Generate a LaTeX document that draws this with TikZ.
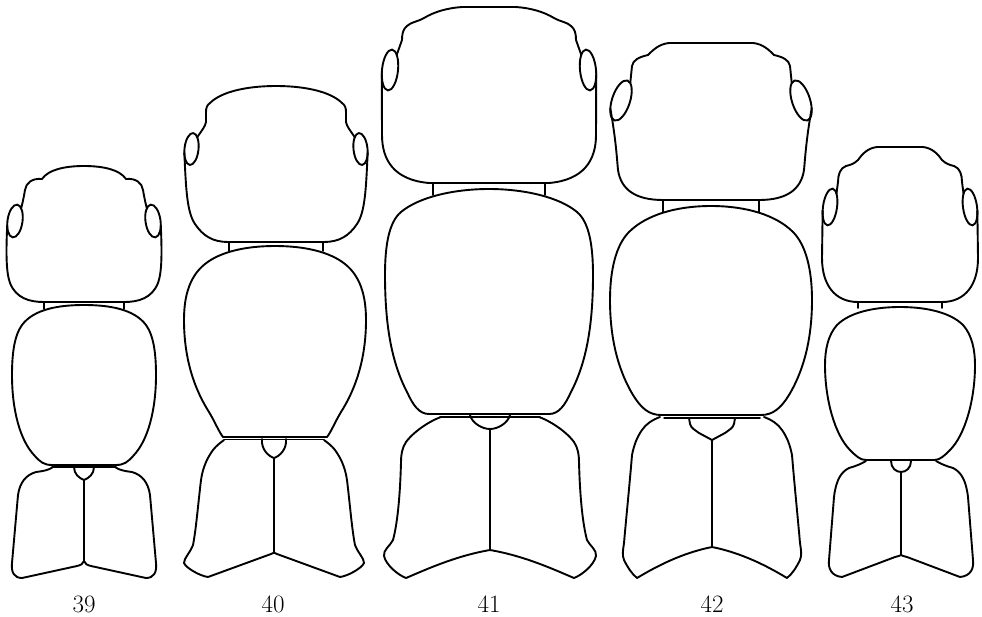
\documentclass[tikz,border=0pt]{standalone}
\usetikzlibrary{shapes.geometric}
\begin{document}
\tikzset{
  ol/.style={line width=1.9pt, line join=round, line cap=round},
  sutureline/.style={line width=1.8pt, line cap=round},
  baseline2/.style={line width=1.5pt, line cap=round},
  eyeshape/.style={draw, ellipse, inner sep=0pt, outer sep=0pt, line width=1.9pt, transform shape},
  lab/.style={font=\fontsize{25}{25}\selectfont, inner sep=0pt},
}
\begin{tikzpicture}[x=1pt,y=-1pt]
\useasboundingbox (0,0) rectangle (982,616);

% ---------------- 39 ----------------
\foreach \s in {1,-1}{
\begin{scope}[shift={(84,0)},xscale=\s]
  \node[eyeshape, minimum width=15pt, minimum height=33pt, rotate=-8] (e39\s) at (-69,221) {};
  \draw[ol] (0,166) .. controls (-20,166) and (-36,170) .. (-42,179)
     .. controls (-52,178) and (-58,183) .. (-59,190)
     .. controls (-60,196) and (-61,201) .. (e39\s.72);
  \draw[ol] (e39\s.215) .. controls (-78,252) and (-78,272) .. (-74,283)
     .. controls (-68,298) and (-55,302) .. (-40,302) -- (0,302);
  \draw[ol] (-40,302) -- (-40,309);
  \draw[ol] (0,305) .. controls (-25,305) and (-50,309) .. (-62,325)
     .. controls (-70,336) and (-72,355) .. (-72,375)
     .. controls (-72,410) and (-64,440) .. (-50,455)
     .. controls (-44,462) and (-40,465) .. (-32,465) -- (0,465);
  \draw[baseline2] (-32,467) -- (0,467);
  \draw[ol] (-31,467) .. controls (-35,470) and (-40,471) .. (-48,472)
     .. controls (-58,475) and (-64,482) .. (-66,495) -- (-72,563)
     .. controls (-73,572) and (-70,578) .. (-62,578) -- (-7,566)
     .. controls (-3,565) and (-1,564) .. (0,561);
  \draw[ol] (-10,467) .. controls (-10,474) and (-5,478) .. (0,480);
\end{scope}}
\draw[sutureline] (84,480) -- (84,561);

% ---------------- 40 ----------------
\foreach \s in {1,-1}{
\begin{scope}[shift={(276,0)},xscale=\s]
  \node[eyeshape, minimum width=14pt, minimum height=32pt, rotate=-6] (e40\s) at (-84.5,149) {};
  \draw[ol] (0,86) .. controls (-30,86) and (-55,92) .. (-66,103)
     .. controls (-69,105) and (-70,108) .. (-70,112) -- (-70,122)
     .. controls (-71,127) and (-74,130) .. (e40\s.70);
  \draw[ol] (e40\s.215) .. controls (-90,190) and (-89,212) .. (-81,224)
     .. controls (-73,236) and (-63,242) .. (-48,242) -- (0,242);
  \draw[ol] (-47,242) -- (-47,251);
\end{scope}
\begin{scope}[shift={(275,0)},xscale=\s]
  \draw[ol] (0,246) .. controls (-30,246) and (-55,252) .. (-70,264)
     .. controls (-85,276) and (-91,295) .. (-91,320)
     .. controls (-91,360) and (-80,390) .. (-66,412)
     .. controls (-60,422) and (-56,432) .. (-52,437) -- (0,437);
\end{scope}
\begin{scope}[shift={(274,0)},xscale=\s]
  \draw[baseline2] (-50,439.5) -- (0,439.5);
  \draw[ol] (-50,440) .. controls (-54,443) and (-58,446) .. (-61,450)
     .. controls (-66,457) and (-71,466) .. (-73,480)
     .. controls (-76,505) and (-78,530) .. (-81,545)
     .. controls (-84,553) and (-90,558) .. (-90,563)
     .. controls (-88,568) and (-74,576) .. (-66,577) -- (-3,554)
     .. controls (-1,553) and (0,553) .. (0,552);
  \draw[ol] (-12,439) .. controls (-13,449) and (-6,456) .. (0,458);
\end{scope}}
\draw[sutureline] (274,458) -- (274,552);

% ---------------- 41 ----------------
\foreach \s in {1,-1}{
\begin{scope}[shift={(489,0)},xscale=\s]
  \node[eyeshape, minimum width=16pt, minimum height=41pt, rotate=-6] (e41\s) at (-99,70) {};
  \draw[ol] (0,7) -- (-27,7) .. controls (-42,8) and (-55,12) .. (-65,18)
     .. controls (-72,22) and (-78,22) .. (-82,26)
     .. controls (-86,29) and (-87,34) .. (-87,40) -- (e41\s.72);
  \draw[ol] (e41\s.210) -- (-107,135)
     .. controls (-107,160) and (-95,180) .. (-60,183) -- (0,183);
  \draw[ol] (-56,183) -- (-56,195);
  \draw[ol] (0,189) .. controls (-35,189) and (-70,197) .. (-88,212)
     .. controls (-100,222) and (-104,245) .. (-104,275)
     .. controls (-104,330) and (-96,365) .. (-82,392)
     .. controls (-76,405) and (-70,414) .. (-60,414) -- (0,414);
\end{scope}
\begin{scope}[shift={(490,0)},xscale=\s]
  \draw[baseline2] (-50,417) -- (0,417);
  \draw[ol] (-49,417) .. controls (-58,420) and (-75,430) .. (-84,442)
     .. controls (-88,448) and (-89,455) .. (-89,462)
     .. controls (-90,500) and (-93,525) .. (-97,540)
     .. controls (-100,546) and (-107,550) .. (-106,556)
     .. controls (-104,565) and (-92,575) .. (-84,578)
     .. controls (-65,570) and (-35,556) .. (0,550);
  \draw[ol] (-20,415) .. controls (-18,423) and (-8,429) .. (0,429);
\end{scope}}
\draw[sutureline] (490,429) -- (490,550);

% ---------------- 42 ----------------
\foreach \s in {1,-1}{
\begin{scope}[shift={(711,0)},xscale=\s]
  \node[eyeshape, minimum width=18pt, minimum height=42pt, rotate=-18] (e42\s) at (-90,100.5) {};
  \draw[ol] (0,43) -- (-42,43) .. controls (-52,44) and (-58,50) .. (-63,55)
     .. controls (-72,57) and (-78,60) .. (-79,66) -- (e42\s.80);
  \draw[ol] (e42\s.235) .. controls (-95,140) and (-94,160) .. (-93,170)
     .. controls (-90,190) and (-75,200) .. (-48,200) -- (0,200);
  \draw[ol] (-48,200) -- (-48,212);
  \draw[ol] (0,206) .. controls (-35,206) and (-65,215) .. (-82,232)
     .. controls (-95,245) and (-101,270) .. (-101,300)
     .. controls (-101,345) and (-90,375) .. (-78,395)
     .. controls (-70,408) and (-62,415) .. (-50,415) -- (0,415);
\end{scope}
\begin{scope}[shift={(712,0)},xscale=\s]
  \draw[baseline2] (-48,418) -- (0,418);
  \draw[ol] (-52,417) .. controls (-60,420) and (-66,424) .. (-70,430)
     .. controls (-75,437) and (-78,445) .. (-80,455)
     .. controls (-82,480) and (-86,520) .. (-88,543)
     .. controls (-89,550) and (-90,555) .. (-88,560)
     .. controls (-84,568) and (-80,574) .. (-75,578)
     .. controls (-55,566) and (-30,553) .. (0,547);
  \draw[ol] (-23,418) -- (-22,424) .. controls (-21,428) and (-17,430) .. (-13,433) -- (0,440);
\end{scope}}
\draw[sutureline] (712,440) -- (712,547);

% ---------------- 43 ----------------
\foreach \s in {1,-1}{
\begin{scope}[shift={(900,0)},xscale=\s]
  \node[eyeshape, minimum width=14pt, minimum height=37pt, rotate=-8] (e43\s) at (-70,207) {};
  \draw[ol] (0,147) -- (-23,147) .. controls (-32,148) and (-38,154) .. (-42,160)
     .. controls (-46,164) and (-50,165) .. (-54,166)
     .. controls (-60,168) and (-62,175) .. (-62,182) -- (e43\s.72);
  \draw[ol] (e43\s.215) -- (-78,258)
     .. controls (-78,285) and (-65,302) .. (-42,302) -- (0,302);
  \draw[ol] (-42,302) -- (-42,308);
  \draw[ol] (0,307) .. controls (-25,307) and (-50,312) .. (-63,325)
     .. controls (-72,335) and (-75,350) .. (-75,365)
     .. controls (-75,400) and (-65,435) .. (-50,450)
     .. controls (-44,456) and (-40,460) .. (-34,460) -- (0,460);
\end{scope}
\begin{scope}[shift={(901,0)},xscale=\s]
  \draw[ol] (-35,461) .. controls (-40,464) and (-45,466) .. (-52,468)
     .. controls (-60,472) and (-65,480) .. (-67,497) -- (-72,560)
     .. controls (-73,568) and (-70,576) .. (-59,577) -- (-6,557)
     .. controls (-3,556) and (-1,556) .. (0,555);
  \draw[ol] (-10,461) .. controls (-10,468) and (-5,472) .. (0,472);
\end{scope}}
\draw[sutureline] (901,472) -- (901,555);

% ---------------- labels ----------------
\node[lab] (l39) at (84,604) {39};
\node[lab] (l40) at (273,604) {40};
\node[lab] (l41) at (489,604) {41};
\node[lab] (l42) at (712,604) {42};
\node[lab] (l43) at (902,604) {43};
\end{tikzpicture}
\end{document}
